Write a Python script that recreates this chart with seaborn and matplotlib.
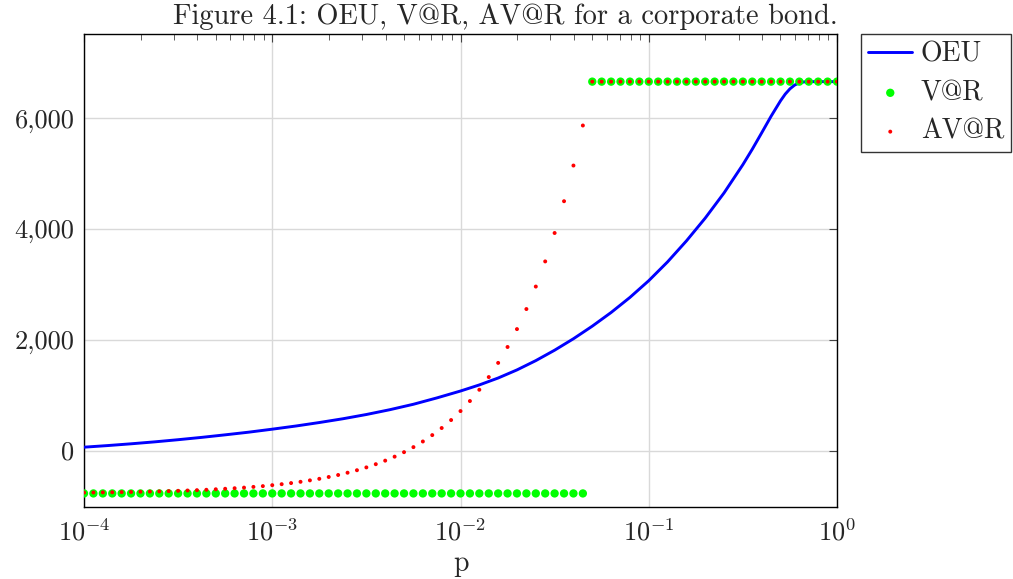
import matplotlib
matplotlib.use("Agg")
import matplotlib.pyplot as plt
import matplotlib.ticker as mticker
import numpy as np
import pandas as pd
import seaborn as sns

# confidence levels p (log-spaced, 20 per decade)
p_levels = [
    1.000e-4, 1.122e-4, 1.259e-4, 1.413e-4, 1.585e-4, 1.778e-4, 1.995e-4, 2.239e-4, 2.512e-4, 2.818e-4,
    3.162e-4, 3.548e-4, 3.981e-4, 4.467e-4, 5.012e-4, 5.623e-4, 6.310e-4, 7.079e-4, 7.943e-4, 8.913e-4,
    1.000e-3, 1.122e-3, 1.259e-3, 1.413e-3, 1.585e-3, 1.778e-3, 1.995e-3, 2.239e-3, 2.512e-3, 2.818e-3,
    3.162e-3, 3.548e-3, 3.981e-3, 4.467e-3, 5.012e-3, 5.623e-3, 6.310e-3, 7.079e-3, 7.943e-3, 8.913e-3,
    1.000e-2, 1.122e-2, 1.259e-2, 1.413e-2, 1.585e-2, 1.778e-2, 1.995e-2, 2.239e-2, 2.512e-2, 2.818e-2,
    3.162e-2, 3.548e-2, 3.981e-2, 4.467e-2, 5.012e-2, 5.623e-2, 6.310e-2, 7.079e-2, 7.943e-2, 8.913e-2,
    1.000e-1, 1.122e-1, 1.259e-1, 1.413e-1, 1.585e-1, 1.778e-1, 1.995e-1, 2.239e-1, 2.512e-1, 2.818e-1,
    3.162e-1, 3.548e-1, 3.981e-1, 4.467e-1, 5.012e-1, 5.623e-1, 6.310e-1, 7.079e-1, 7.943e-1, 8.913e-1,
    1.0,
]

# value at risk: below the default probability the bond gains, above it the loss is total
var_values = [-775] * 54 + [6660] * 27

# average value at risk
avar_values = [
    -760, -758, -756, -754, -751, -749, -745, -742, -738, -733,
    -728, -722, -716, -709, -700, -691, -681, -670, -657, -643,
    -626, -608, -588, -565, -539, -511, -478, -442, -401, -356,
    -305, -247, -183, -111, -30, 61, 163, 278, 406, 550,
    712, 893, 1097, 1326, 1582, 1869, 2192, 2554, 2960, 3414,
    3927, 4501, 5145, 5868, 6660, 6660, 6660, 6660, 6660, 6660,
    6660, 6660, 6660, 6660, 6660, 6660, 6660, 6660, 6660, 6660,
    6660, 6660, 6660, 6660, 6660, 6660, 6660, 6660, 6660, 6660,
    6660,
]

# optimized expected utility curve
oeu_p = [
    1.000e-4, 1.334e-4, 1.778e-4, 2.371e-4, 3.162e-4, 4.217e-4, 5.623e-4, 7.499e-4,
    1.000e-3, 1.334e-3, 1.778e-3, 2.371e-3, 3.162e-3, 4.217e-3, 5.623e-3, 7.499e-3,
    1.000e-2, 1.259e-2, 1.585e-2, 1.995e-2, 2.512e-2, 3.162e-2, 3.981e-2, 5.012e-2,
    6.310e-2, 7.943e-2, 1.000e-1, 1.259e-1, 1.585e-1, 1.995e-1, 2.512e-1, 3.162e-1,
    3.548e-1, 3.981e-1, 4.467e-1, 5.012e-1, 5.309e-1, 5.623e-1, 5.957e-1, 6.310e-1,
    6.683e-1, 7.079e-1, 1.0,
]
oeu_values = [
    60, 89, 121, 156, 195, 237, 283, 331,
    385, 442, 505, 573, 650, 737, 835, 950,
    1074, 1184, 1309, 1455, 1623, 1811, 2018, 2245,
    2492, 2764, 3066, 3406, 3784, 4196, 4651, 5161,
    5440, 5736, 6036, 6314, 6435, 6530, 6598, 6638,
    6655, 6660, 6660,
]

y_ticks = [0, 2000, 4000, 6000]
title_text = "Figure 4.1: OEU, V@R, AV@R for a corporate bond."

sns.set_style("white")
plt.rcParams["font.family"] = ["cmr10", "DejaVu Serif"]
plt.rcParams["mathtext.fontset"] = "cm"
plt.rcParams["axes.formatter.use_mathtext"] = True
plt.rcParams["axes.unicode_minus"] = False

oeu_df = pd.DataFrame({"p": oeu_p, "value": oeu_values})
pts_df = pd.DataFrame({"p": p_levels, "var": var_values, "avar": avar_values})

fig = plt.figure(figsize=(10.13, 5.79), dpi=100)
ax = fig.add_axes([84 / 1013, 1 - 507 / 579, 753 / 1013, 473 / 579])

sns.lineplot(data=oeu_df, x="p", y="value", ax=ax, color="#0000ff", linewidth=2.1,
             label="OEU", zorder=3)
sns.scatterplot(data=pts_df, x="p", y="var", ax=ax, color="#00ff00", s=36,
                edgecolor="none", linewidth=0, label="V@R", zorder=4)
sns.scatterplot(data=pts_df, x="p", y="avar", ax=ax, color="#ff0000", s=8,
                edgecolor="none", linewidth=0, label="AV@R", zorder=5)

ax.set_xscale("log")
ax.set_xlim(1e-4, 1)
ax.set_ylim(-1020, 7520)
ax.set_yticks(y_ticks)
ax.yaxis.set_major_formatter(mticker.FuncFormatter(lambda v, _: f"{v:,.0f}"))
ax.xaxis.set_major_locator(mticker.LogLocator(base=10, numticks=10))
ax.xaxis.set_minor_locator(mticker.LogLocator(base=10, subs=np.arange(2, 10), numticks=20))
ax.xaxis.set_minor_formatter(mticker.NullFormatter())

ax.grid(True, which="major", color="#d9d9d9", linewidth=1.0)
ax.set_axisbelow(True)
ax.tick_params(axis="both", which="both", direction="in", top=True, right=True,
               color="#444444", labelsize=19)
ax.tick_params(axis="both", which="major", length=6, width=0.8)
ax.tick_params(axis="x", which="major", pad=8)
ax.tick_params(axis="y", which="major", pad=7)
ax.tick_params(axis="x", which="minor", length=4, width=0.6)
for sp in ax.spines.values():
    sp.set_color("black")
    sp.set_linewidth(1.0)

ax.set_xlabel("p", fontsize=20, labelpad=4)
ax.set_ylabel("")

fig.text(505.5 / 1013, 1 - 24 / 579, title_text, ha="center", va="baseline", fontsize=20.5)

leg = ax.legend(loc="upper left", bbox_to_anchor=(1.032, 1.0), fontsize=20,
                frameon=True, fancybox=False, edgecolor="black", borderaxespad=0,
                handlelength=1.6, labelspacing=0.45, borderpad=0.25, handletextpad=0.3)
leg.get_frame().set_linewidth(1.0)

fig.savefig("out.png", dpi=100)
